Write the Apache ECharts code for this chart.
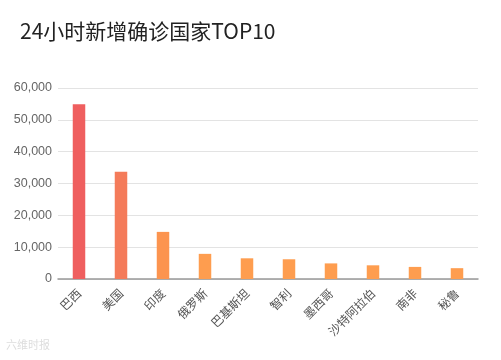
<!DOCTYPE html>
<html>
<head>
<meta charset="utf-8">
<script src="https://cdn.jsdelivr.net/npm/echarts@6/dist/echarts.min.js"></script>
<style>
html,body{margin:0;padding:0;background:#fff;}
#c{width:501px;height:360px;}
</style>
</head>
<body>
<div id="c"></div>
<script>
var titleText = '24小时新增确诊国家TOP10';
var categories = ['巴西','美国','印度','俄罗斯','巴基斯坦','智利','墨西哥','沙特阿拉伯','南非','秘鲁'];
var values = [54900, 33700, 14800, 7900, 6500, 6200, 4900, 4300, 3800, 3400];
var barColors = ['#EF5F5F','#F47B5A','#FC944F','#FE9D4F','#FE9D4F','#FE9D4F','#FE9D4F','#FE9D4F','#FE9D4F','#FE9D4F'];
var yTicks = [0, 10000, 20000, 30000, 40000, 50000, 60000];

var chart = echarts.init(document.getElementById('c'), null, {renderer:'canvas'});
chart.setOption({
  animation:false,
  backgroundColor:'#fff',
  title:{
    text:titleText, left:15, top:16,
    textStyle:{fontSize:21, fontWeight:'normal', color:'#222', fontFamily:'"Noto Sans CJK SC", sans-serif'}
  },
  graphic:[{
    type:'text', left:6, top:339,
    style:{text:'六维时报', fill:'#ddd', font:'11px "Noto Sans CJK SC"'}
  }],
  grid:{left:58, right:23, top:88, bottom:81},
  xAxis:{
    type:'category', data:categories,
    axisLine:{lineStyle:{color:'#999', width:1.5}},
    axisTick:{show:false},
    axisLabel:{rotate:45, interval:0, color:'#555', fontSize:12, margin:12,
      fontFamily:'"Noto Sans CJK SC", sans-serif'}
  },
  yAxis:{
    type:'value', min:yTicks[0], max:yTicks[yTicks.length-1], interval:10000,
    axisLine:{show:false}, axisTick:{show:false},
    splitLine:{lineStyle:{color:'#e3e3e3', width:1.2}},
    axisLabel:{color:'#666', fontSize:12.5, margin:6,
      fontFamily:'"Liberation Sans", Arial, sans-serif',
      formatter:function(v){return v.toLocaleString('en-US');}}
  },
  series:[{
    type:'bar', barWidth:12.5,
    data:values.map(function(v,i){return {value:v, itemStyle:{color:barColors[i]}};})
  }]
});
</script>
</body>
</html>
